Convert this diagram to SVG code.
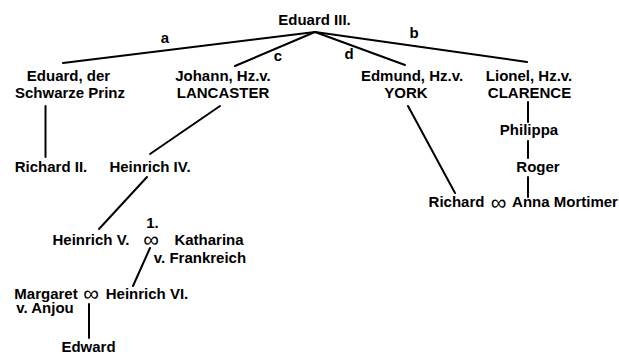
<svg xmlns="http://www.w3.org/2000/svg" width="619" height="354" viewBox="0 0 619 354">
<style>
text{font-family:"Liberation Sans",Arial,sans-serif;font-weight:bold;font-size:15px;fill:#000}
.m{text-anchor:middle}
.inf{font-size:22px;font-weight:normal}
line{stroke:#000;stroke-width:2;stroke-linecap:round}
</style>
<rect width="619" height="354" fill="#fff"/>
<g id="connectors">
<line x1="315" y1="32" x2="63" y2="63"/>
<line x1="315" y1="32" x2="235" y2="66"/>
<line x1="315" y1="32" x2="405" y2="65"/>
<line x1="315" y1="32" x2="527" y2="62"/>
<line x1="45.5" y1="106" x2="45.5" y2="157"/>
<line x1="220" y1="106" x2="150" y2="154"/>
<line x1="408" y1="106" x2="455" y2="193"/>
<line x1="528" y1="102" x2="528" y2="122"/>
<line x1="528" y1="141" x2="528" y2="158"/>
<line x1="528" y1="177" x2="528" y2="197"/>
<line x1="147" y1="177" x2="99" y2="229"/>
<line x1="150" y1="248" x2="133" y2="286"/>
<line x1="89" y1="304" x2="89" y2="338"/>
<text x="165" y="43" class="m">a</text>
<text x="278" y="61" class="m">c</text>
<text x="349" y="59" class="m">d</text>
<text x="414" y="38" class="m">b</text>
</g>
<g id="eduard3"><text x="314.5" y="25" class="m">Eduard III.</text></g>
<g id="schwarzeprinz"><text x="68.5" y="81" class="m">Eduard, der</text><text x="70" y="98" class="m">Schwarze Prinz</text></g>
<g id="johann"><text x="223" y="81" class="m">Johann, Hz.v.</text><text x="223" y="98" class="m">LANCASTER</text></g>
<g id="edmund"><text x="412" y="81" class="m">Edmund, Hz.v.</text><text x="406" y="98" class="m">YORK</text></g>
<g id="lionel"><text x="529" y="81" class="m">Lionel, Hz.v.</text><text x="529.5" y="98" class="m">CLARENCE</text></g>
<g id="richard2"><text x="51" y="172" class="m">Richard II.</text></g>
<g id="heinrich4"><text x="150" y="172" class="m">Heinrich IV.</text></g>
<g id="philippa"><text x="529" y="135" class="m">Philippa</text></g>
<g id="roger"><text x="538" y="172" class="m">Roger</text></g>
<g id="richard"><text x="456.5" y="207" class="m">Richard</text><text x="498.5" y="210" class="m inf">∞</text></g>
<g id="anna"><text x="565" y="207" class="m">Anna Mortimer</text></g>
<g id="heinrich5"><text x="91" y="245" class="m">Heinrich V.</text><text x="152.5" y="228" class="m">1.</text><text x="151" y="247" class="m inf">∞</text></g>
<g id="katharina"><text x="209" y="245" class="m">Katharina</text><text x="200" y="263" class="m">v. Frankreich</text></g>
<g id="margaret"><text x="46" y="299" class="m">Margaret</text><text x="45" y="313" class="m">v. Anjou</text><text x="91" y="301" class="m inf">∞</text></g>
<g id="heinrich6"><text x="147" y="299" class="m">Heinrich VI.</text></g>
<g id="edward"><text x="88.5" y="352" class="m">Edward</text></g>
</svg>
